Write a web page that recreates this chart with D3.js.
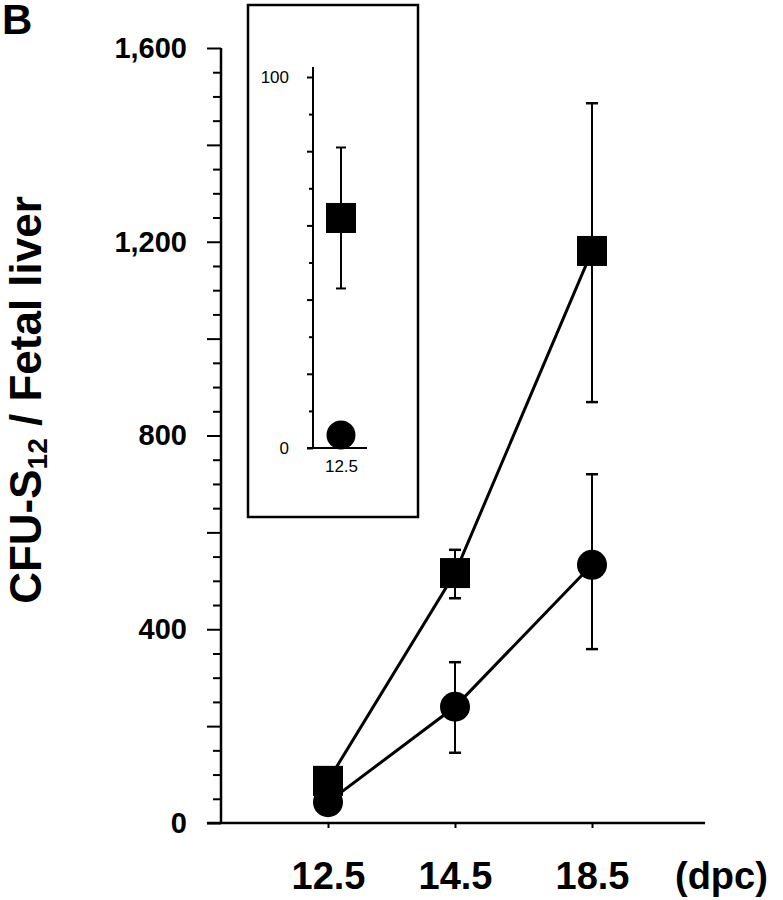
<!DOCTYPE html>
<html>
<head>
<meta charset="utf-8">
<script src="https://cdn.jsdelivr.net/npm/d3@7"></script>
<style>
  body { margin: 0; background: #fff; }
  svg { display: block; font-family: "Liberation Sans", Arial, Helvetica, sans-serif; }
</style>
</head>
<body>
<div class="chart"></div>
<script>
// stages (days post coitum)
var ages = ["12.5", "14.5", "18.5"];

// squares: mean and error limits
var sqMean = [87, 516, 1181];
var sqLow  = [72, 464, 869];
var sqHigh = [102, 564, 1486];

// circles: mean and error limits
var ciMean = [43, 240, 533];
var ciLow  = [33, 145, 359];
var ciHigh = [53, 332, 720];

// inset (12.5 dpc only, zoomed scale)
var insetAges = ["12.5"];
var insetSq = [62];
var insetSqLow = [43];
var insetSqHigh = [81];
var insetCi = [3.5];

var yTicks = d3.range(0, 1601, 50);
var insetTicks = d3.range(0, 101, 10);

var width = 783, height = 900;

var svg = d3.select(".chart").append("svg")
  .attr("width", width)
  .attr("height", height);

svg.append("rect").attr("width", width).attr("height", height).attr("fill", "#fff");

// panel letter
svg.append("text")
  .text("B")
  .attr("x", 2)
  .attr("y", 34)
  .attr("font-size", "42px")
  .attr("font-weight", "bold");

// ---------- main plot ----------
var yScale = d3.scaleLinear().domain([0, 1600]).range([823, 48]);
var xScale = d3.scaleOrdinal().domain(ages).range([328, 455, 592]);
var axisX = 221;

var yAxis = d3.axisLeft(yScale)
  .tickValues(yTicks)
  .tickSize(8)
  .tickPadding(26)
  .tickFormat(function(d) { return d % 400 === 0 ? d3.format(",")(d) : ""; });

var gy = svg.append("g")
  .attr("transform", "translate(" + axisX + ",0)")
  .call(yAxis);

gy.select(".domain").remove();
gy.selectAll(".tick line")
  .attr("stroke", "#000")
  .attr("stroke-width", 2)
  .attr("x2", function(d) { return d % 200 === 0 ? -14 : -8; });
gy.selectAll(".tick text")
  .attr("fill", "#000")
  .attr("font-size", "29px")
  .attr("font-weight", "bold")
  .attr("font-family", "'Liberation Sans', Arial, sans-serif");

svg.append("line")
  .attr("x1", axisX).attr("x2", axisX)
  .attr("y1", yScale(1600)).attr("y2", yScale(0))
  .attr("stroke", "#000").attr("stroke-width", 2.5);

var xAxis = d3.axisBottom(xScale)
  .tickSize(5)
  .tickPadding(34);

var gx = svg.append("g")
  .attr("transform", "translate(0," + yScale(0) + ")")
  .call(xAxis);

gx.select(".domain").remove();
gx.selectAll(".tick line").attr("stroke", "#000").attr("stroke-width", 2);
gx.selectAll(".tick text")
  .attr("fill", "#000")
  .attr("font-size", "38px")
  .attr("font-weight", "bold")
  .attr("font-family", "'Liberation Sans', Arial, sans-serif");

svg.append("line")
  .attr("x1", axisX - 14).attr("x2", 705)
  .attr("y1", yScale(0)).attr("y2", yScale(0))
  .attr("stroke", "#000").attr("stroke-width", 2.5);

svg.append("text")
  .text("(dpc)")
  .attr("x", 675)
  .attr("y", yScale(0) + 5 + 34)
  .attr("dy", "0.71em")
  .attr("font-size", "38px")
  .attr("font-weight", "bold");

// y title
var title = svg.append("text")
  .attr("transform", "translate(41,400) rotate(-90)")
  .attr("text-anchor", "middle")
  .attr("font-size", "44px")
  .attr("font-weight", "bold");
title.append("tspan").text("CFU-S");
title.append("tspan").text("12").attr("font-size", "28px").attr("dy", 6);
title.append("tspan").text(" / Fetal liver").attr("dy", -6);

// lines
var line = d3.line()
  .x(function(d) { return xScale(d.age); })
  .y(function(d) { return yScale(d.v); });

var sqData = ages.map(function(a, i) { return { age: a, v: sqMean[i], lo: sqLow[i], hi: sqHigh[i] }; });
var ciData = ages.map(function(a, i) { return { age: a, v: ciMean[i], lo: ciLow[i], hi: ciHigh[i] }; });

[sqData, ciData].forEach(function(series) {
  svg.append("path")
    .datum(series)
    .attr("d", line)
    .attr("fill", "none")
    .attr("stroke", "#000")
    .attr("stroke-width", 3);

  var eb = svg.append("g").selectAll("g").data(series).enter().append("g");
  eb.append("line")
    .attr("x1", function(d) { return xScale(d.age); })
    .attr("x2", function(d) { return xScale(d.age); })
    .attr("y1", function(d) { return yScale(d.lo); })
    .attr("y2", function(d) { return yScale(d.hi); })
    .attr("stroke", "#000").attr("stroke-width", 2);
  ["lo", "hi"].forEach(function(k) {
    eb.append("line")
      .attr("x1", function(d) { return xScale(d.age) - 6; })
      .attr("x2", function(d) { return xScale(d.age) + 6; })
      .attr("y1", function(d) { return yScale(d[k]); })
      .attr("y2", function(d) { return yScale(d[k]); })
      .attr("stroke", "#000").attr("stroke-width", 2.5);
  });
});

svg.append("g").selectAll("rect").data(sqData).enter().append("rect")
  .attr("x", function(d) { return xScale(d.age) - 15; })
  .attr("y", function(d) { return yScale(d.v) - 15; })
  .attr("width", 30).attr("height", 30)
  .attr("fill", "#000");

svg.append("g").selectAll("circle").data(ciData).enter().append("circle")
  .attr("cx", function(d) { return xScale(d.age); })
  .attr("cy", function(d) { return yScale(d.v); })
  .attr("r", 15)
  .attr("fill", "#000");

// ---------- inset ----------
svg.append("rect")
  .attr("x", 248).attr("y", 5)
  .attr("width", 170).attr("height", 512)
  .attr("fill", "none")
  .attr("stroke", "#000").attr("stroke-width", 2.5);

var inY = d3.scaleLinear().domain([0, 100]).range([448, 77]);
var inX = d3.scaleOrdinal().domain(insetAges).range([341]);
var inAxisX = 313;

var giy = svg.append("g")
  .attr("transform", "translate(" + inAxisX + ",0)")
  .call(d3.axisLeft(inY)
    .tickValues(insetTicks)
    .tickSize(4)
    .tickPadding(20)
    .tickFormat(function(d) { return (d === 0 || d === 100) ? d : ""; }));
giy.select(".domain").remove();
giy.selectAll(".tick line")
  .attr("stroke", "#000").attr("stroke-width", 2)
  .attr("x2", function(d) { return d % 20 === 0 ? -6 : -4; });
giy.selectAll(".tick text")
  .attr("fill", "#000")
  .attr("font-size", "17px")
  .attr("font-family", "'Liberation Sans', Arial, sans-serif");

svg.append("line")
  .attr("x1", inAxisX).attr("x2", inAxisX)
  .attr("y1", inY(100) - 10).attr("y2", inY(0))
  .attr("stroke", "#000").attr("stroke-width", 2);

svg.append("line")
  .attr("x1", inAxisX - 6).attr("x2", 367)
  .attr("y1", inY(0)).attr("y2", inY(0))
  .attr("stroke", "#000").attr("stroke-width", 2);

var gix = svg.append("g")
  .attr("transform", "translate(0," + inY(0) + ")")
  .call(d3.axisBottom(inX).tickSize(0).tickPadding(12));
gix.select(".domain").remove();
gix.selectAll(".tick text")
  .attr("fill", "#000")
  .attr("font-size", "17px")
  .attr("font-family", "'Liberation Sans', Arial, sans-serif");

var inSqData = insetAges.map(function(a, i) { return { age: a, v: insetSq[i], lo: insetSqLow[i], hi: insetSqHigh[i] }; });

svg.append("g").selectAll("line").data(inSqData).enter().append("line")
  .attr("x1", function(d) { return inX(d.age); })
  .attr("x2", function(d) { return inX(d.age); })
  .attr("y1", function(d) { return inY(d.lo); })
  .attr("y2", function(d) { return inY(d.hi); })
  .attr("stroke", "#000").attr("stroke-width", 2);
["lo", "hi"].forEach(function(k) {
  svg.append("g").selectAll("line").data(inSqData).enter().append("line")
    .attr("x1", function(d) { return inX(d.age) - 5; })
    .attr("x2", function(d) { return inX(d.age) + 5; })
    .attr("y1", function(d) { return inY(d[k]); })
    .attr("y2", function(d) { return inY(d[k]); })
    .attr("stroke", "#000").attr("stroke-width", 2);
});

svg.append("g").selectAll("rect").data(inSqData).enter().append("rect")
  .attr("x", function(d) { return inX(d.age) - 15; })
  .attr("y", function(d) { return inY(d.v) - 15; })
  .attr("width", 30).attr("height", 30)
  .attr("fill", "#000");

svg.append("g").selectAll("circle").data(insetAges).enter().append("circle")
  .attr("cx", function(d) { return inX(d); })
  .attr("cy", function(d, i) { return inY(insetCi[i]); })
  .attr("r", 14.5)
  .attr("fill", "#000");
</script>
</body>
</html>
